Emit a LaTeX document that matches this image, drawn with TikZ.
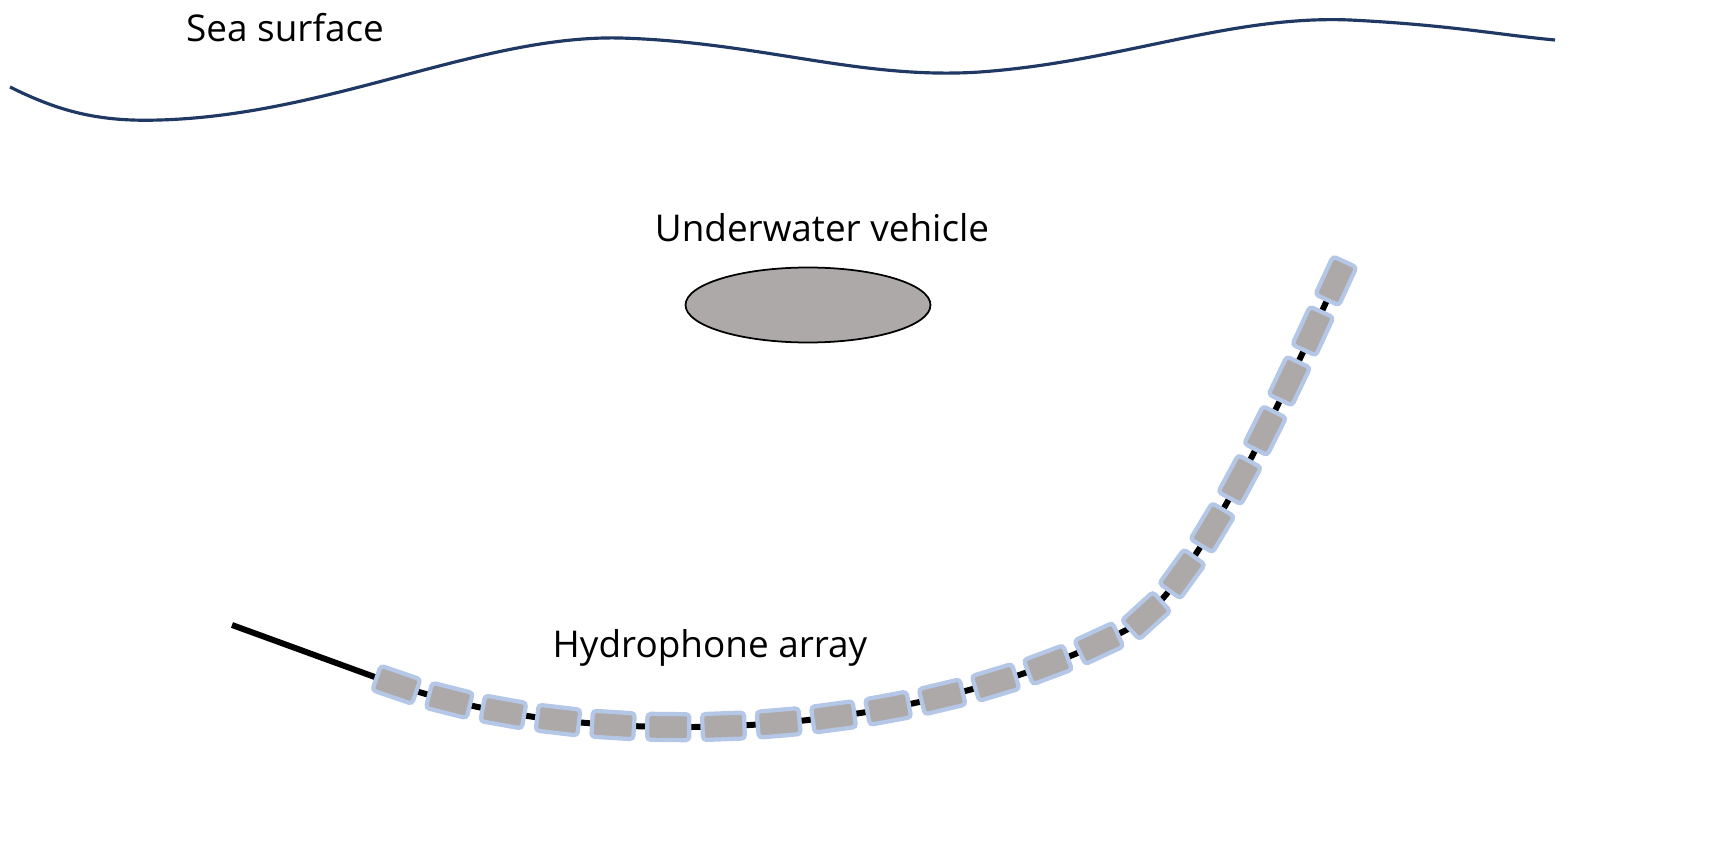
\documentclass[tikz,border=0pt]{standalone}
\usepackage{fontspec}
\setmainfont{Open Sans}
\usetikzlibrary{decorations.markings,shapes.geometric}
\definecolor{navy}{HTML}{1F3864}
\definecolor{hgray}{HTML}{ADA9A9}
\definecolor{hblue}{HTML}{B4C7E7}
\begin{document}
\begin{tikzpicture}[x=0.02cm,y=-0.02cm,
  lbl/.style={font=\fontsize{21}{25}\selectfont},
  hyd/.style={draw=hblue,fill=hgray,line width=2.4pt,rounded corners=2pt,minimum width=0.84cm,minimum height=0.52cm,inner sep=0pt,transform shape}]
\useasboundingbox (0,0) rectangle (1714,847);
\draw[navy,line width=1.8pt] (10,87) .. controls (60,112) and (100,122) .. (160,120)
  .. controls (330,115) and (480,35) .. (620,38)
  .. controls (760,42) and (860,80) .. (980,72)
  .. controls (1120,62) and (1230,15) .. (1350,20)
  .. controls (1450,25) and (1500,35) .. (1555,40);
\node[lbl] (sea) at (285,28) {Sea surface};
\node[lbl] (uvl) at (822,228) {Underwater vehicle};
\node[draw=black,line width=1pt,fill=hgray,ellipse,minimum width=4.9cm,minimum height=1.5cm] (uv) at (808,305) {};
\node[lbl] (hal) at (710,648) {Hydrophone array};
\coordinate (c0) at (232,625);
\coordinate (c1) at (383,680);
\draw[line width=3.4pt] (c0) -- (c1);
\draw[line width=3.4pt,decoration={markings,mark=between positions 0.012 and 1 step 1.105cm with {\node[hyd] {};}},postaction=decorate]
  (c1) .. controls (600,760) and (930,735) .. (1130,628)
  .. controls (1200,585) and (1290,380) .. (1340,272);
\end{tikzpicture}
\end{document}
